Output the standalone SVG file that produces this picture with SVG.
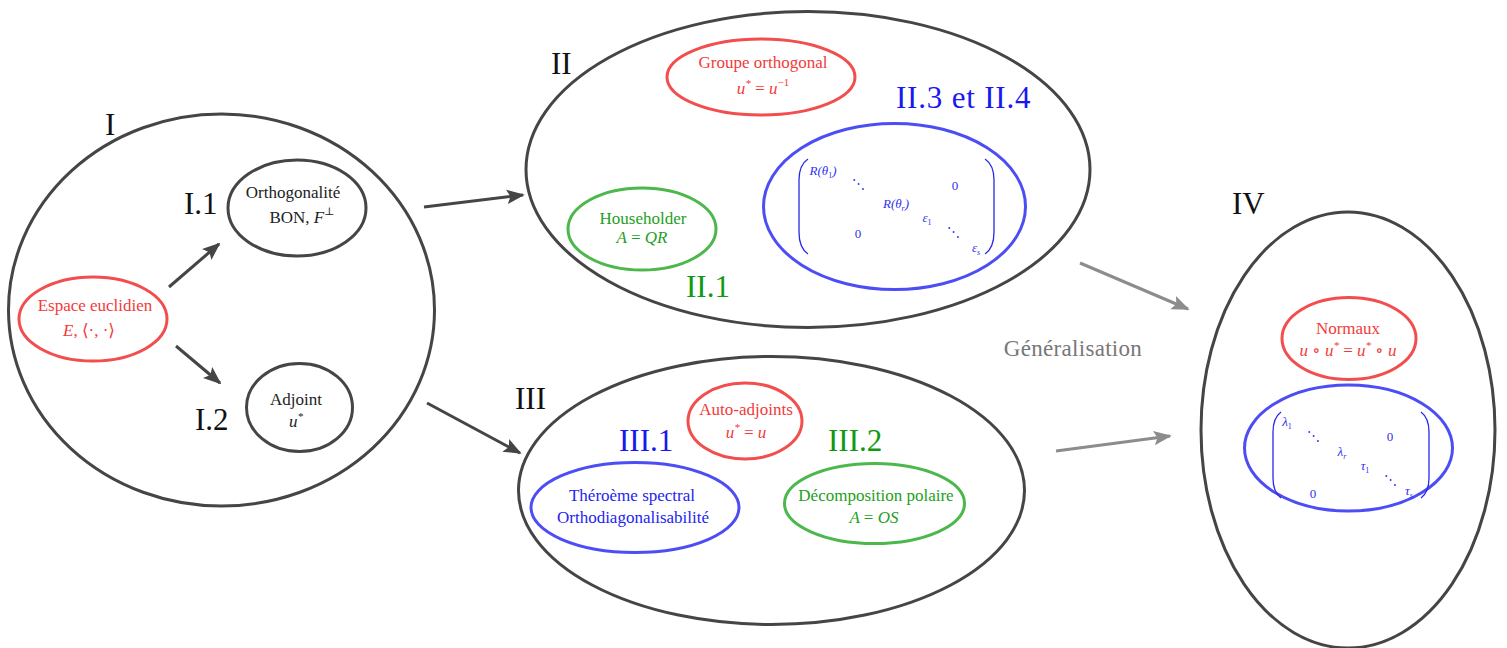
<svg xmlns="http://www.w3.org/2000/svg" width="1507" height="648" viewBox="0 0 1507 648">
<defs>
<marker id="ah" viewBox="0 0 10 10" refX="9" refY="5" markerWidth="6" markerHeight="6" markerUnits="strokeWidth" orient="auto">
<path d="M0,1 L10,5 L0,9 L2,5 Z" fill="#454545"/>
</marker>
<marker id="ahg" viewBox="0 0 10 10" refX="9" refY="5" markerWidth="6" markerHeight="6" markerUnits="strokeWidth" orient="auto">
<path d="M0,1 L10,5 L0,9 L2,5 Z" fill="#8c8c8c"/>
</marker>
<style>
text{font-family:"Liberation Serif","DejaVu Serif",serif;}
.big{fill:none;stroke:#454545;stroke-width:3;}
.red{fill:none;stroke:#f24e4e;stroke-width:3;}
.blu{fill:none;stroke:#4d4df5;stroke-width:3;}
.grn{fill:none;stroke:#4cb84c;stroke-width:3;}
.blk{fill:none;stroke:#454545;stroke-width:3;}
.t{font-size:17px;text-anchor:middle;}
.tr{fill:#f23a3a;}
.tb{fill:#2424f0;}
.tg{fill:#23a023;}
.tk{fill:#222;}
.m{font-style:italic;}
.lab{font-size:31px;fill:#111;}
.labb{font-size:31px;fill:#1818f0;}
.labg{font-size:31px;fill:#119911;}
.mx{font-size:13px;fill:#3030f0;text-anchor:middle;}
.par{fill:none;stroke:#2828e8;stroke-width:1.3;}
.arr{stroke:#454545;stroke-width:3;fill:none;marker-end:url(#ah);}
.arrg{stroke:#8c8c8c;stroke-width:3;fill:none;marker-end:url(#ahg);}
</style>
</defs>

<g id="I">
<ellipse class="big" cx="221.5" cy="310" rx="213" ry="196"/>
<text class="lab" x="105" y="135">I</text>
</g>
<g id="espace">
<ellipse class="red" cx="93" cy="319" rx="74" ry="42"/>
<text class="t tr" x="95" y="311">Espace euclidien</text>
<text class="t tr" x="89" y="336"><tspan class="m">E</tspan>, ⟨·, ·⟩</text>
</g>
<g id="orth">
<ellipse class="blk" cx="297" cy="208" rx="69" ry="48"/>
<text class="lab" x="184" y="214">I.1</text>
<text class="t tk" x="293" y="198">Orthogonalité</text>
<text class="t tk" x="302" y="223">BON, <tspan class="m">F</tspan><tspan font-size="11" dy="-8">⊥</tspan></text>
</g>
<g id="adjoint">
<ellipse class="blk" cx="299.5" cy="407.5" rx="53" ry="44"/>
<text class="lab" x="195" y="430">I.2</text>
<text class="t tk" x="296" y="405">Adjoint</text>
<text class="t tk m" x="296" y="427">u<tspan font-size="11" dy="-7">*</tspan></text>
</g>

<g id="II">
<ellipse class="big" cx="808" cy="169.5" rx="282" ry="158"/>
<text class="lab" x="551" y="74">II</text>
</g>
<g id="groupe">
<ellipse class="red" cx="761" cy="77" rx="94" ry="38"/>
<text class="t tr" x="763" y="68">Groupe orthogonal</text>
<text class="t tr m" x="763" y="94">u<tspan font-size="11" dy="-7">*</tspan><tspan dy="7" font-style="normal"> = </tspan>u<tspan font-size="11" dy="-8" font-style="normal">−1</tspan></text>
</g>
<g id="householder">
<ellipse class="grn" cx="642" cy="229" rx="74" ry="41"/>
<text class="t tg" x="643" y="224">Householder</text>
<text class="t tg m" x="642" y="243">A <tspan font-style="normal">=</tspan> QR</text>
<text class="labg" x="686" y="297">II.1</text>
</g>
<g id="reduction">
<ellipse class="blu" cx="894.5" cy="206.5" rx="131" ry="83"/>
<text class="labb" x="896" y="108" letter-spacing="0.8">II.3 et II.4</text>
<path class="par" d="M808,159 Q799,165 799,180 L799,232 Q799,248 808,254"/>
<path class="par" d="M985,159 Q994,165 994,180 L994,232 Q994,248 985,254"/>
<text class="mx m" x="823" y="175">R(θ<tspan font-size="8" dy="3" font-style="normal">1</tspan><tspan dy="-3">)</tspan></text>
<text class="mx" x="858" y="188">⋱</text>
<text class="mx" x="955" y="190">0</text>
<text class="mx m" x="896" y="208">R(θ<tspan font-size="8" dy="3">r</tspan><tspan dy="-3">)</tspan></text>
<text class="mx m" x="927" y="222">ε<tspan font-size="8" dy="3" font-style="normal">1</tspan></text>
<text class="mx" x="953" y="236">⋱</text>
<text class="mx" x="858" y="238">0</text>
<text class="mx m" x="976" y="252">ε<tspan font-size="8" dy="3">s</tspan></text>
</g>

<g id="III">
<ellipse class="big" cx="771.5" cy="490.5" rx="253" ry="134"/>
<text class="lab" x="515" y="409">III</text>
</g>
<g id="autoadj">
<ellipse class="red" cx="745" cy="421" rx="57" ry="38"/>
<text class="t tr" x="746" y="415">Auto-adjoints</text>
<text class="t tr m" x="746" y="438">u<tspan font-size="11" dy="-7">*</tspan><tspan dy="7" font-style="normal"> = </tspan>u</text>
</g>
<g id="spectral">
<ellipse class="blu" cx="635" cy="507.5" rx="104" ry="45"/>
<text class="labb" x="619" y="451">III.1</text>
<text class="t tb" x="632" y="501">Théroème spectral</text>
<text class="t tb" x="633" y="523">Orthodiagonalisabilité</text>
</g>
<g id="polaire">
<ellipse class="grn" cx="874.5" cy="503.5" rx="90" ry="40"/>
<text class="labg" x="828" y="451">III.2</text>
<text class="t tg" x="876" y="501">Décomposition polaire</text>
<text class="t tg m" x="874" y="523">A <tspan font-style="normal">=</tspan> OS</text>
</g>

<g id="IV">
<ellipse class="big" cx="1348" cy="430" rx="147" ry="218"/>
<text class="lab" x="1232" y="214">IV</text>
</g>
<g id="normaux">
<ellipse class="red" cx="1349" cy="338.5" rx="67" ry="41"/>
<text class="t tr" x="1348" y="334">Normaux</text>
<text class="t tr m" x="1348" y="356">u <tspan font-style="normal">∘</tspan> u<tspan font-size="11" dy="-7">*</tspan><tspan dy="7" font-style="normal"> = </tspan>u<tspan font-size="11" dy="-7">*</tspan><tspan dy="7" font-style="normal"> ∘ </tspan>u</text>
</g>
<g id="diag">
<ellipse class="blu" cx="1348.5" cy="448" rx="104" ry="63"/>
<path class="par" d="M1281,412 Q1273,418 1273,432 L1273,478 Q1273,492 1281,498"/>
<path class="par" d="M1421,412 Q1429,418 1429,432 L1429,478 Q1429,492 1421,498"/>
<text class="mx m" x="1287" y="426">λ<tspan font-size="8" dy="3" font-style="normal">1</tspan></text>
<text class="mx" x="1313" y="440">⋱</text>
<text class="mx" x="1390" y="441">0</text>
<text class="mx m" x="1342" y="456">λ<tspan font-size="8" dy="3">r</tspan></text>
<text class="mx m" x="1365" y="470">τ<tspan font-size="8" dy="3" font-style="normal">1</tspan></text>
<text class="mx" x="1390" y="484">⋱</text>
<text class="mx" x="1313" y="498">0</text>
<text class="mx m" x="1409" y="495">τ<tspan font-size="8" dy="3">s</tspan></text>
</g>

<g id="connectors">
<line class="arr" x1="169" y1="287" x2="219" y2="244"/>
<line class="arr" x1="176" y1="346" x2="220" y2="383"/>
<line class="arr" x1="424" y1="207" x2="523" y2="195"/>
<line class="arr" x1="427" y1="403" x2="520" y2="453"/>
<line class="arrg" x1="1080" y1="263" x2="1188" y2="309"/>
<line class="arrg" x1="1056" y1="451" x2="1170" y2="436"/>
<text x="1073" y="356" font-size="23" fill="#777" text-anchor="middle" letter-spacing="0.3">Généralisation</text>
</g>
</svg>
